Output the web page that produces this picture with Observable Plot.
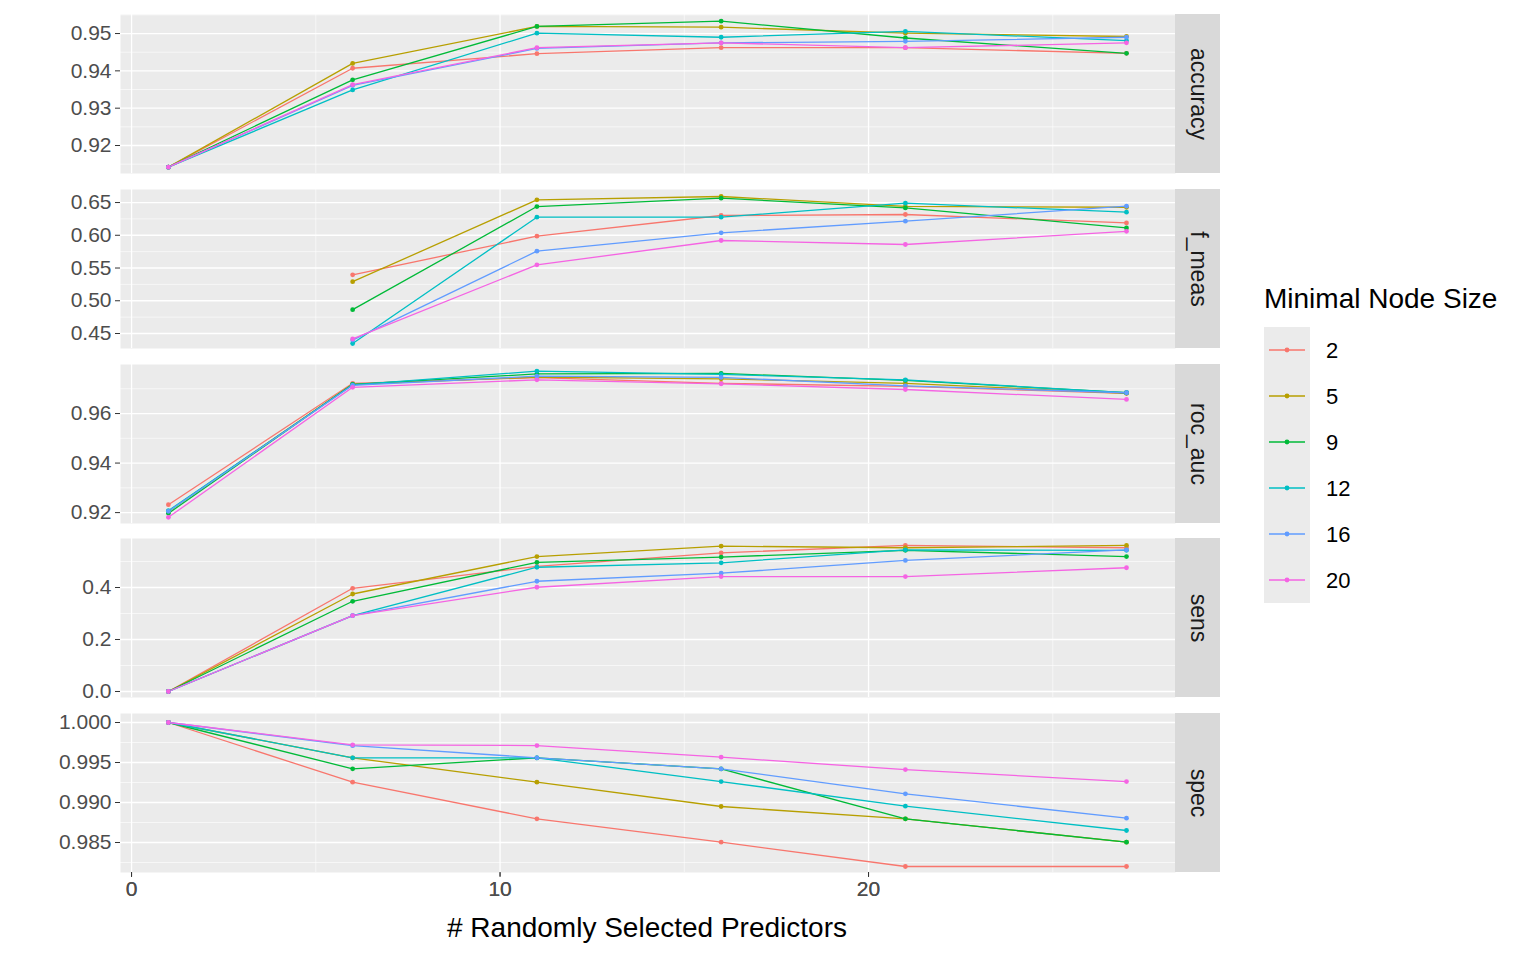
<!DOCTYPE html>
<html><head><meta charset="utf-8">
<script src="https://cdn.jsdelivr.net/npm/d3@7"></script>
<script src="https://cdn.jsdelivr.net/npm/@observablehq/plot@0.6"></script>
<style>
body{margin:0;background:#fff;font-family:"Liberation Sans",Arial,sans-serif;}
#wrap{position:relative;width:1536px;height:960px;}
.pl{position:absolute;left:0;overflow:visible;}
.pl g[aria-label="y-axis tick label"] text, .pl g[aria-label="x-axis tick label"] text{font-size:21px;}
.strip{position:absolute;left:1175px;width:45px;height:159px;background:#D9D9D9;}
.strip span{position:absolute;left:50%;top:50%;transform:translate(-50%,-50%) rotate(90deg);font-size:23px;color:#1A1A1A;white-space:nowrap;}
</style></head><body><div id="wrap"></div>
<script>
const xs = [1, 6, 11, 16, 21, 27];
const sizes = ["2", "5", "9", "12", "16", "20"];
const colors = ["#F8766D", "#B79F00", "#00BA38", "#00BFC4", "#619CFF", "#F564E3"];
const metrics = ["accuracy", "f_meas", "roc_auc", "sens", "spec"];

const accuracy = {
  "2":  [0.9142, 0.9407, 0.9446, 0.9462, 0.9462, 0.9447],
  "5":  [0.9142, 0.9420, 0.9519, 0.9517, 0.9501, 0.9492],
  "9":  [0.9142, 0.9376, 0.9519, 0.9533, 0.9488, 0.9447],
  "12": [0.9142, 0.9349, 0.9501, 0.9490, 0.9506, 0.9481],
  "16": [0.9142, 0.9361, 0.9460, 0.9475, 0.9479, 0.9490],
  "20": [0.9142, 0.9363, 0.9462, 0.9475, 0.9462, 0.9475]
};
const f_meas = {
  "2":  [null, 0.5396, 0.5986, 0.6302, 0.6317, 0.6189],
  "5":  [null, 0.5291, 0.6541, 0.6592, 0.6440, 0.6428],
  "9":  [null, 0.4864, 0.6439, 0.6566, 0.6418, 0.6112],
  "12": [null, 0.4347, 0.6276, 0.6276, 0.6490, 0.6352],
  "16": [null, 0.4400, 0.5757, 0.6037, 0.6215, 0.6444],
  "20": [null, 0.4417, 0.5549, 0.5920, 0.5859, 0.6060]
};
const roc_auc = {
  "2":  [0.9232, 0.9722, 0.9745, 0.9722, 0.9710, 0.9682],
  "5":  [0.9205, 0.9718, 0.9747, 0.9740, 0.9722, 0.9682],
  "9":  [0.9197, 0.9718, 0.9760, 0.9762, 0.9734, 0.9684],
  "12": [0.9208, 0.9716, 0.9771, 0.9758, 0.9736, 0.9684],
  "16": [0.9205, 0.9714, 0.9751, 0.9746, 0.9712, 0.9684],
  "20": [0.9181, 0.9706, 0.9736, 0.9720, 0.9697, 0.9657]
};
const sens = {
  "2":  [0, 0.397, 0.481, 0.533, 0.562, 0.553],
  "5":  [0, 0.375, 0.519, 0.559, 0.553, 0.562],
  "9":  [0, 0.347, 0.497, 0.517, 0.543, 0.519],
  "12": [0, 0.292, 0.478, 0.495, 0.545, 0.543],
  "16": [0, 0.292, 0.424, 0.455, 0.504, 0.545],
  "20": [0, 0.292, 0.401, 0.442, 0.442, 0.476]
};
const spec = {
  "2":  [1, 0.99254, 0.98796, 0.98504, 0.98200, 0.98200],
  "5":  [1, 0.99559, 0.99254, 0.98950, 0.98796, 0.98504],
  "9":  [1, 0.99421, 0.99559, 0.99420, 0.98796, 0.98504],
  "12": [1, 0.99559, 0.99559, 0.99262, 0.98954, 0.98650],
  "16": [1, 0.99710, 0.99559, 0.99420, 0.99109, 0.98804],
  "20": [1, 0.99721, 0.99712, 0.99566, 0.99412, 0.99262]
};
const values = {accuracy, f_meas, roc_auc, sens, spec};

const yDomains = {
  accuracy: [0.9125, 0.9551], f_meas: [0.4271, 0.6699], roc_auc: [0.9156, 0.9798],
  sens: [-0.0231, 0.5885], spec: [0.98125, 1.001125]
};
const yTicks = {
  accuracy: [0.92, 0.93, 0.94, 0.95], f_meas: [0.45, 0.50, 0.55, 0.60, 0.65],
  roc_auc: [0.92, 0.94, 0.96], sens: [0.0, 0.2, 0.4], spec: [0.985, 0.990, 0.995, 1.000]
};
const yFormats = {accuracy: ".2f", f_meas: ".2f", roc_auc: ".2f", sens: ".1f", spec: ".3f"};
const xTicks = [0, 10, 20];
const xMinor = [5, 15, 25];
const panelTops = [14, 189, 364, 538, 713];
const panelH = 159;

const wrap = document.getElementById("wrap");
metrics.forEach((m, i) => {
  const rows = [];
  sizes.forEach(s => values[m][s].forEach((v, j) => { if (v != null) rows.push({x: xs[j], y: v, size: s}); }));
  const t = yTicks[m];
  const step = t[1] - t[0];
  const minor = [t[0] - step / 2, ...t.map(v => v + step / 2)].filter(v => v > yDomains[m][0] && v < yDomains[m][1]);
  const last = i === metrics.length - 1;
  const p = Plot.plot({
    width: 1220, height: panelH + (last ? 50 : 0),
    marginLeft: 120, marginRight: 45, marginTop: 0, marginBottom: last ? 50 : 0,
    style: {fontSize: "21px", fontFamily: "Liberation Sans, Arial, sans-serif", color: "#4D4D4D", background: "transparent", overflow: "visible"},
    x: {domain: [-0.3, 28.33], ticks: xTicks, tickFormat: "d", tickSize: 4, label: null, axis: last ? "bottom" : null},
    y: {domain: yDomains[m], label: null, axis: null},
    color: {domain: sizes, range: colors},
    marks: [
      Plot.frame({fill: "#EBEBEB", stroke: null}),
      Plot.ruleY(minor, {stroke: "#fff", strokeWidth: 0.6}),
      Plot.ruleX(xMinor, {stroke: "#fff", strokeWidth: 0.6}),
      Plot.ruleY(t, {stroke: "#fff", strokeWidth: 1.3}),
      Plot.ruleX(xTicks, {stroke: "#fff", strokeWidth: 1.3}),
      Plot.axisY(t, {tickSize: 5, tickPadding: 4, tickFormat: yFormats[m], stroke: "#333", fill: "#4D4D4D", fontSize: 21}),
      Plot.line(rows, {x: "x", y: "y", stroke: "size", z: "size", strokeWidth: 1.3}),
      Plot.dot(rows, {x: "x", y: "y", fill: "size", r: 2.4}),
      ...(last ? [Plot.axisX(xTicks, {tickSize: 5, tickPadding: 4, stroke: "#333", fill: "#4D4D4D", fontSize: 21, tickFormat: "d", label: null})] : [])
    ]
  });
  p.classList.add("pl");
  p.style.top = panelTops[i] + "px";
  wrap.appendChild(p);
  const st = document.createElement("div");
  st.className = "strip";
  st.style.top = panelTops[i] + "px";
  st.innerHTML = `<span>${m}</span>`;
  wrap.appendChild(st);
});

const xt = document.createElement("div");
xt.textContent = "# Randomly Selected Predictors";
Object.assign(xt.style, {position: "absolute", left: "647px", top: "912px", transform: "translateX(-50%)", fontSize: "28px", color: "#000", whiteSpace: "nowrap"});
wrap.appendChild(xt);

const lt = document.createElement("div");
lt.textContent = "Minimal Node Size";
Object.assign(lt.style, {position: "absolute", left: "1264px", top: "283px", fontSize: "28px", color: "#000", whiteSpace: "nowrap"});
wrap.appendChild(lt);
const lg = d3.select(wrap).append("svg").attr("width", 160).attr("height", 280)
  .style("position", "absolute").style("left", "1264px").style("top", "327px");
sizes.forEach((s, i) => {
  const y0 = i * 46;
  lg.append("rect").attr("x", 0).attr("y", y0).attr("width", 46).attr("height", 46).attr("fill", "#EBEBEB");
  lg.append("line").attr("x1", 5).attr("x2", 41).attr("y1", y0 + 23).attr("y2", y0 + 23).attr("stroke", colors[i]).attr("stroke-width", 1.3);
  lg.append("circle").attr("cx", 23).attr("cy", y0 + 23).attr("r", 2.4).attr("fill", colors[i]);
  lg.append("text").attr("x", 62).attr("y", y0 + 31).attr("font-size", 22).attr("fill", "#000")
    .attr("font-family", "Liberation Sans, Arial, sans-serif").text(s);
});
</script></body></html>
